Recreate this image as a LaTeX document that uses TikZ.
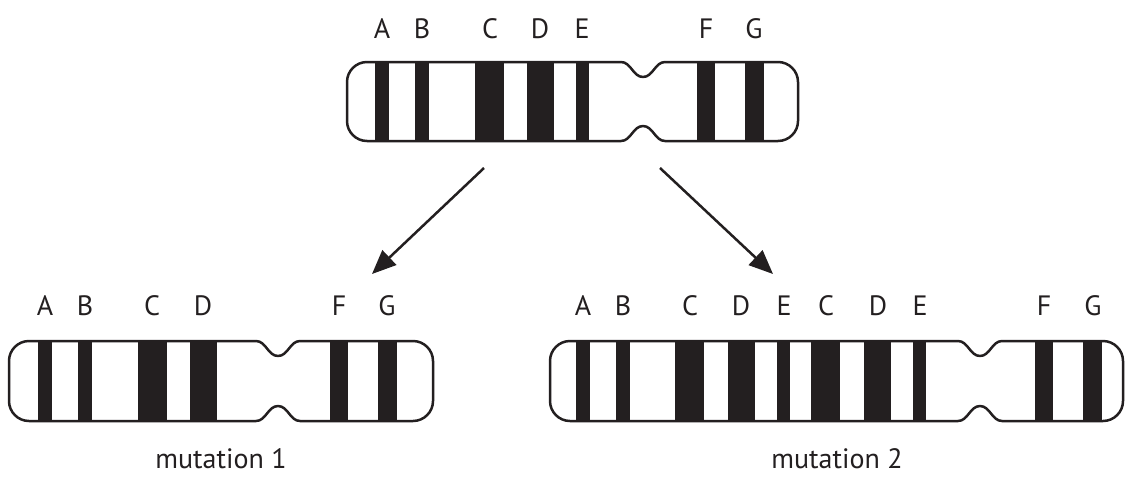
\documentclass[tikz,border=0pt]{standalone}
\usepackage{fontspec}
\setmainfont{PT Sans}
\usetikzlibrary{arrows.meta}
\definecolor{ink}{HTML}{231F20}
\newcommand\chromo[5]{% left, right, notch centre, top, bottom
  \path[chromfill] ({#1+20},#4) -- ({#3-22},#4) .. controls ({#3-12},#4) and ({#3-10},{#4+15}) .. (#3,{#4+15})
    .. controls ({#3+10},{#4+15}) and ({#3+12},#4) .. ({#3+22},#4) -- ({#2-20},#4)
    .. controls ({#2-9},#4) and (#2,{#4+9}) .. (#2,{#4+20}) -- (#2,{#5-20})
    .. controls (#2,{#5-9}) and ({#2-9},#5) .. ({#2-20},#5) -- ({#3+22},#5)
    .. controls ({#3+12},#5) and ({#3+10},{#5-15}) .. (#3,{#5-15})
    .. controls ({#3-10},{#5-15}) and ({#3-12},#5) .. ({#3-22},#5) -- ({#1+20},#5)
    .. controls ({#1+9},#5) and (#1,{#5-9}) .. (#1,{#5-20}) -- (#1,{#4+20})
    .. controls (#1,{#4+9}) and ({#1+9},#4) .. ({#1+20},#4) -- cycle;
}
\newcommand\chromoline[5]{%
  \draw[chromline] ({#1+20},#4) -- ({#3-22},#4) .. controls ({#3-12},#4) and ({#3-10},{#4+15}) .. (#3,{#4+15})
    .. controls ({#3+10},{#4+15}) and ({#3+12},#4) .. ({#3+22},#4) -- ({#2-20},#4)
    .. controls ({#2-9},#4) and (#2,{#4+9}) .. (#2,{#4+20}) -- (#2,{#5-20})
    .. controls (#2,{#5-9}) and ({#2-9},#5) .. ({#2-20},#5) -- ({#3+22},#5)
    .. controls ({#3+12},#5) and ({#3+10},{#5-15}) .. (#3,{#5-15})
    .. controls ({#3-10},{#5-15}) and ({#3-12},#5) .. ({#3-22},#5) -- ({#1+20},#5)
    .. controls ({#1+9},#5) and (#1,{#5-9}) .. (#1,{#5-20}) -- (#1,{#4+20})
    .. controls (#1,{#4+9}) and ({#1+9},#4) .. ({#1+20},#4) -- cycle;
}
\begin{document}
\begin{tikzpicture}[x=1pt,y=-1pt,
  chromfill/.style={fill=white},
  chromline/.style={draw=ink,line width=2.5pt,line join=round},
  bandbar/.style={fill=ink},
  lbl/.style={anchor=base,inner sep=0pt,text=ink,font=\fontsize{28}{28}\selectfont},
  captxt/.style={anchor=base,inner sep=0pt,text depth=0pt,text=ink,font=\fontsize{28}{28}\selectfont},
  arr/.style={draw=ink,line width=2.5pt,-{Triangle[length=24pt,width=20pt]}}]
\useasboundingbox[fill=white] (0,0) rectangle (1126,477);

% top chromosome
\chromo{347}{798}{643}{62}{141}
\foreach \a/\b in {375/389,415/429,475/504,527/554,576/589,697/715,745/764}
  \fill[bandbar] (\a,62) rectangle (\b,141);
\chromoline{347}{798}{643}{62}{141}
\foreach \n/\x/\t in {tA/382/A,tB/422/B,tC/490/C,tD/540/D,tE/582/E,tF/706/F,tG/754/G}
  \node[lbl] (\n) at (\x,38) {\t};

% mutation 1
\chromo{9}{433}{278}{341}{421}
\foreach \a/\b in {38/52,78/92,138/167,190/217,330/348,378/397}
  \fill[bandbar] (\a,341) rectangle (\b,421);
\chromoline{9}{433}{278}{341}{421}
\foreach \n/\x/\t in {lA/45/A,lB/85/B,lC/152/C,lD/203/D,lF/339/F,lG/387/G}
  \node[lbl] (\n) at (\x,315) {\t};
\node[captxt] (m1) at (221,468) {mutation 1};

% mutation 2
\chromo{550}{1123}{980}{341}{421}
\foreach \a/\b in {576/590,616/630,675/704,728/755,777/790,811/840,864/891,913/926,1035/1053,1083/1102}
  \fill[bandbar] (\a,341) rectangle (\b,421);
\chromoline{550}{1123}{980}{341}{421}
\foreach \n/\x/\t in {rA/583/A,rB/623/B,rC/690/C,rD/741/D,rE/784/E,rC2/826/C,rD2/878/D,rE2/920/E,rF/1044/F,rG/1093/G}
  \node[lbl] (\n) at (\x,315) {\t};
\node[captxt] (m2) at (837,468) {mutation 2};

% arrows
\coordinate (a1s) at (484,168);
\coordinate (a1e) at (372,274);
\coordinate (a2s) at (660,168);
\coordinate (a2e) at (773,274);
\draw[arr] (a1s) -- (a1e);
\draw[arr] (a2s) -- (a2e);
\end{tikzpicture}
\end{document}
